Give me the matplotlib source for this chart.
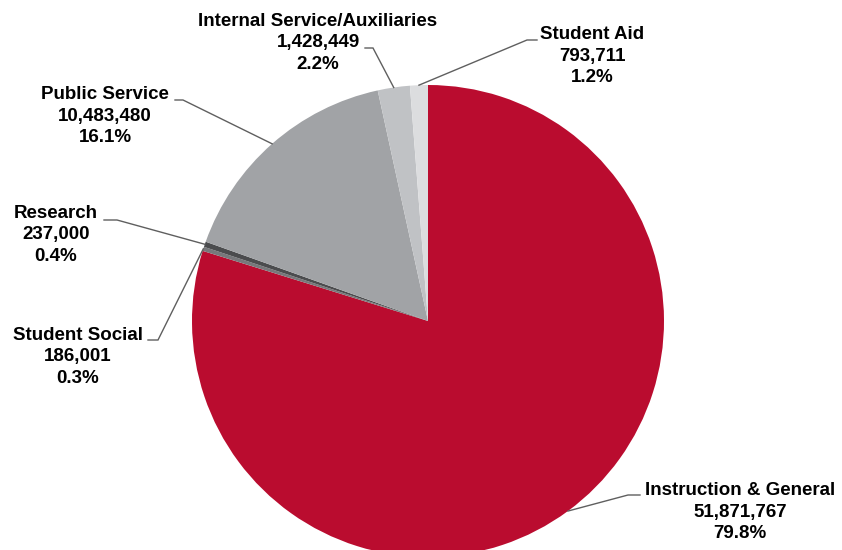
import numpy as np
import matplotlib.pyplot as plt

W, H = 842, 550

labels = ['Instruction & General', 'Student Social', 'Research', 'Public Service',
          'Internal Service/Auxiliaries', 'Student Aid']
amounts = [51871767, 186001, 237000, 10483480, 1428449, 793711]
colors = ['#BA0C2F', '#77787B', '#4B4C4E', '#A1A3A6', '#C0C2C5', '#DCDDDF']

# label block centres and leader elbows, in pixels from the top-left corner
label_xy = [(740, 512), (78, 357), (56, 235), (105, 116), (318, 43), (592, 56)]
elbow_xy = [(628, 495), (158, 340), (117, 220), (183, 100), (373, 48), (527, 40)]
tail_xy = [(640, 495), (148, 340), (104, 220), (175, 100), (365, 48), (537, 40)]

plt.rcParams['font.family'] = ['Liberation Sans', 'DejaVu Sans']

fig = plt.figure(figsize=(W / 100, H / 100), dpi=100)
ax = fig.add_axes([0, 0, 1, 1])

cx, cy, r = 428, H - 321, 236
wedges, _ = ax.pie(amounts, colors=colors, startangle=90, counterclock=False,
                   center=(cx, cy), radius=r,
                   wedgeprops=dict(linewidth=0))

total = sum(amounts)
for w, lab, amt, (tx, ty), (ex, ey), (sx, sy) in zip(wedges, labels, amounts,
                                                     label_xy, elbow_xy, tail_xy):
    mid = np.deg2rad((w.theta1 + w.theta2) / 2)
    px, py = cx + r * np.cos(mid), cy + r * np.sin(mid)
    ax.plot([px, ex, sx], [py, H - ey, H - sy], color='#5f5f5f', lw=1,
            solid_joinstyle='miter')
    txt = '%s\n%s\n%.1f%%' % (lab, format(amt, ','), amt / total * 100)
    ax.text(tx, H - ty, txt, ha='center', va='center', fontsize=13.5,
            fontweight='bold', linespacing=1.33, color='black')

ax.set_xlim(0, W)
ax.set_ylim(0, H)
ax.set_aspect('equal')
ax.axis('off')

fig.savefig('out.png', dpi=100)
